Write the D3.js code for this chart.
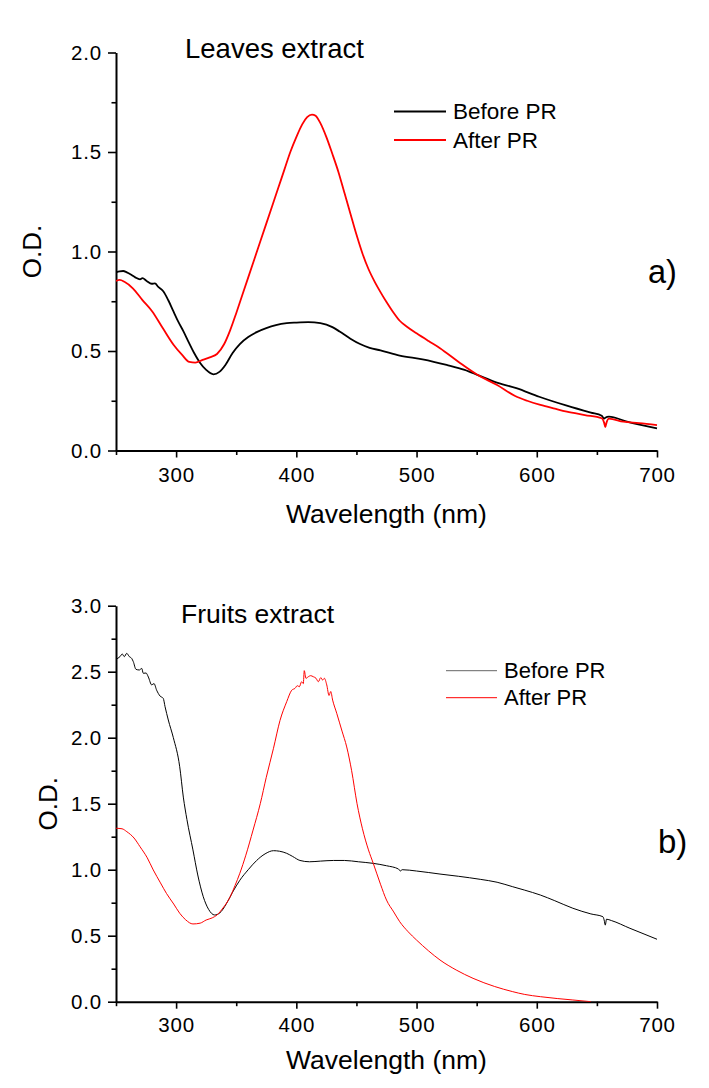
<!DOCTYPE html>
<html>
<head>
<meta charset="utf-8">
<script src="https://cdn.jsdelivr.net/npm/d3@7"></script>
<style>
  html, body { margin: 0; padding: 0; background: #fff; }
  svg { display: block; font-family: "Liberation Sans", Arial, sans-serif; }
</style>
</head>
<body>
<svg id="chart" width="709" height="1088"></svg>
<script>
// ---------- Data ----------
const seriesNames = ["Before PR", "After PR"];
const panelTitles = ["Leaves extract", "Fruits extract"];
const panelLetters = ["a)", "b)"];
const xTickValues = [300, 400, 500, 600, 700];
const xMinorTicks = [250, 350, 450, 550, 650];
const yTicksTop = [0, 0.5, 1.0, 1.5, 2.0];
const yMinorTop = [0.25, 0.75, 1.25, 1.75];
const yTicksBottom = [0, 0.5, 1.0, 1.5, 2.0, 2.5, 3.0];
const yMinorBottom = [0.25, 0.75, 1.25, 1.75, 2.25, 2.75];

// Leaves extract, before PR
const leavesBeforeNm = [250,253,256,259,263,266,270,272,275.5,279.7,282.4,285.2,289.3,293.5,297.7,302,306,310,315,320,325,331,336,341,347,353,360,367,375,383,392,400,410,420,430,436,445,453,461,470,486,505,525,540,551,565,583,602,625,645,654,656,657,660,675,700];
const leavesBeforeOD = [0.895,0.900,0.902,0.895,0.882,0.870,0.860,0.866,0.852,0.838,0.840,0.822,0.800,0.755,0.700,0.645,0.600,0.550,0.490,0.440,0.405,0.383,0.395,0.430,0.490,0.535,0.570,0.595,0.615,0.630,0.640,0.643,0.645,0.640,0.620,0.598,0.562,0.535,0.516,0.503,0.477,0.458,0.430,0.405,0.379,0.345,0.313,0.270,0.225,0.190,0.175,0.160,0.165,0.170,0.145,0.111];

// Leaves extract, after PR
const leavesAfterNm = [250,253,257,264,272,280,289,298,305,311,316,322,328,334,340,345,350,355,360,365,370,375,380,385,390,395,400,405,409,413,416,420,425,430,435,440,445,450,455,460,465,470,475,480,486,492,500,510,519.5,535,551,567,582,592,603,615,625,640,654,656,657,658,660,672,685,700];
const leavesAfterOD = [0.852,0.857,0.848,0.815,0.756,0.700,0.614,0.530,0.480,0.445,0.442,0.455,0.468,0.485,0.535,0.605,0.690,0.780,0.870,0.960,1.050,1.140,1.230,1.320,1.410,1.500,1.575,1.640,1.675,1.688,1.682,1.645,1.575,1.490,1.400,1.295,1.190,1.085,0.990,0.912,0.850,0.796,0.746,0.700,0.652,0.622,0.589,0.550,0.514,0.445,0.379,0.329,0.274,0.250,0.229,0.210,0.195,0.178,0.162,0.140,0.117,0.140,0.160,0.145,0.138,0.128];

// Fruits extract, before PR
const fruitsBeforeNm = [250,253.3,255.2,256.9,258.9,261.1,263.1,264.4,266.6,269.4,271.4,272.7,275,276.9,279.7,281.6,283.8,286.6,289.3,290.8,293.5,297.7,303,306,309,314,318,322.6,327,332,336,342,347,353,360,367,374,381,386,392,397,403,411,420,431,440,451.6,464,475,485,486.5,488,500,519.5,535,553,567,580,590,603,615,630,645,655,656,657,658,662,677.5,690,700];
const fruitsBeforeOD = [2.594,2.614,2.634,2.614,2.639,2.614,2.600,2.576,2.518,2.513,2.525,2.488,2.490,2.460,2.400,2.410,2.360,2.316,2.298,2.235,2.134,2.000,1.780,1.550,1.380,1.150,0.960,0.795,0.700,0.657,0.670,0.745,0.830,0.920,1.000,1.070,1.120,1.144,1.140,1.124,1.100,1.070,1.060,1.065,1.070,1.070,1.060,1.048,1.030,1.005,0.990,1.000,0.990,0.967,0.950,0.927,0.905,0.871,0.845,0.808,0.765,0.708,0.665,0.644,0.620,0.580,0.625,0.615,0.556,0.510,0.473];

// Fruits extract, after PR
const fruitsAfterNm = [250,255,259,265,270,276,281,287,292,298,303,308,314,320,325,330,334,339,345,349,353,358,364,370,375,381,386.4,392,396.2,398.9,400.8,402.5,404.4,405.8,406.6,408,410,411.9,414.1,416.4,418.3,420.3,421.9,423.3,425.3,427.2,428.6,430.2,433.6,438,441.9,446,450.5,455,460,464,470,475,481,486,493,500,510,519.5,533,547,565,580,590,603,617,630,645];
const fruitsAfterOD = [1.314,1.310,1.288,1.240,1.174,1.090,0.998,0.900,0.820,0.740,0.670,0.620,0.589,0.595,0.619,0.635,0.657,0.710,0.795,0.880,0.973,1.110,1.300,1.500,1.700,1.920,2.130,2.273,2.360,2.374,2.394,2.386,2.424,2.410,2.508,2.450,2.462,2.470,2.462,2.450,2.424,2.455,2.437,2.450,2.400,2.320,2.350,2.285,2.185,2.050,1.930,1.750,1.500,1.310,1.150,1.048,0.890,0.770,0.680,0.606,0.530,0.467,0.385,0.316,0.240,0.177,0.115,0.076,0.055,0.038,0.024,0.013,0.000];

// ---------- Drawing ----------
const svg = d3.select("#chart");
const FONT = '"Liberation Sans", Arial, sans-serif';

const panels = [
  {
    top: 52.5, bottom: 450.5, yMax: 2,
    yTicks: yTicksTop, yMinor: yMinorTop,
    series: [
      {nm: leavesBeforeNm, od: leavesBeforeOD, color: "#000"},
      {nm: leavesAfterNm, od: leavesAfterOD, color: "#ff0000"}
    ],
    lineWidth: 1.8,
    title: panelTitles[0], titleX: 185, titleY: 58, titleSize: 27.5,
    legendX: 394, legendLineLen: 52, legendY: [111.5, 140], legendTextX: 453, legendSize: 22.5,
    legendColors: ["#000", "#ff0000"],
    letter: panelLetters[0], letterX: 648, letterY: 283, letterSize: 32.5,
    yTitleX: 41, xTitleY: 523, xLabelPad: 10
  },
  {
    top: 605.7, bottom: 1001.7, yMax: 3,
    yTicks: yTicksBottom, yMinor: yMinorBottom,
    series: [
      {nm: fruitsBeforeNm, od: fruitsBeforeOD, color: "#000"},
      {nm: fruitsAfterNm, od: fruitsAfterOD, color: "#ff0000"}
    ],
    lineWidth: 1.0,
    title: panelTitles[1], titleX: 181, titleY: 623, titleSize: 26.5,
    legendX: 446, legendLineLen: 51, legendY: [670.7, 697.7], legendTextX: 504, legendSize: 22,
    legendColors: ["#666", "#ff0000"],
    letter: panelLetters[1], letterX: 658, letterY: 853, letterSize: 33,
    yTitleX: 57, xTitleY: 1069, xLabelPad: 8.5
  }
];

const X0 = 116, X1 = 657;

panels.forEach(p => {
  const x = d3.scaleLinear().domain([250, 700]).range([X0, X1]);
  const y = d3.scaleLinear().domain([0, p.yMax]).range([p.bottom, p.top]);
  const g = svg.append("g");

  const clipId = "clip" + Math.round(p.top);
  svg.append("clipPath").attr("id", clipId)
    .append("rect").attr("x", X0).attr("y", p.top - 5).attr("width", X1 - X0 + 2).attr("height", p.bottom - p.top + 5);

  // minor ticks
  const xMinorAxis = d3.axisBottom(x).tickValues(xMinorTicks).tickSize(4.5).tickFormat("");
  g.append("g").attr("transform", `translate(0,${p.bottom})`).call(xMinorAxis)
    .call(s => s.select(".domain").remove())
    .selectAll("line").attr("stroke", "#000").attr("stroke-width", 1.6);
  const yMinorAxis = d3.axisLeft(y).tickValues(p.yMinor).tickSize(4.5).tickFormat("");
  g.append("g").attr("transform", `translate(${X0},0)`).call(yMinorAxis)
    .call(s => s.select(".domain").remove())
    .selectAll("line").attr("stroke", "#000").attr("stroke-width", 1.6);

  // major axes
  const xAxis = d3.axisBottom(x).tickValues(xTickValues).tickSize(7).tickSizeOuter(0)
    .tickPadding(p.xLabelPad).tickFormat(d3.format("d"));
  const xg = g.append("g").attr("transform", `translate(0,${p.bottom})`).call(xAxis);
  xg.select(".domain").attr("stroke", "#000").attr("stroke-width", 2);
  xg.selectAll(".tick line").attr("stroke", "#000").attr("stroke-width", 1.6);
  xg.selectAll("text").attr("font-family", FONT).attr("font-size", 20.5).attr("fill", "#000")
    .attr("letter-spacing", 0.8);

  const yAxis = d3.axisLeft(y).tickValues(p.yTicks).tickSize(8).tickSizeOuter(0)
    .tickPadding(6).tickFormat(d3.format(".1f"));
  const yg = g.append("g").attr("transform", `translate(${X0},0)`).call(yAxis);
  yg.select(".domain").attr("stroke", "#000").attr("stroke-width", 2);
  yg.selectAll(".tick line").attr("stroke", "#000").attr("stroke-width", 1.6);
  yg.selectAll("text").attr("font-family", FONT).attr("font-size", 20.5).attr("fill", "#000")
    .attr("letter-spacing", 0.8);

  // curves
  const line = d3.line().x(d => x(d[0])).y(d => y(d[1])).curve(d3.curveMonotoneX);
  p.series.forEach(s => {
    const pts = s.nm.map((v, i) => [v, s.od[i]]);
    g.append("path").datum(pts)
      .attr("clip-path", `url(#${clipId})`)
      .attr("fill", "none").attr("stroke", s.color)
      .attr("stroke-width", p.lineWidth).attr("stroke-linejoin", "round")
      .attr("d", line);
  });

  // axis titles
  g.append("text").attr("x", (X0 + X1) / 2).attr("y", p.xTitleY)
    .attr("text-anchor", "middle").attr("font-family", FONT).attr("font-size", 26.5)
    .attr("fill", "#000").text("Wavelength (nm)");
  g.append("text")
    .attr("transform", `translate(${p.yTitleX},${(p.top + p.bottom) / 2}) rotate(-90)`)
    .attr("text-anchor", "middle").attr("font-family", FONT).attr("font-size", 26)
    .attr("fill", "#000").text("O.D.");

  // panel title
  g.append("text").attr("x", p.titleX).attr("y", p.titleY)
    .attr("font-family", FONT).attr("font-size", p.titleSize).attr("fill", "#000").text(p.title);

  // legend
  seriesNames.forEach((name, i) => {
    g.append("line")
      .attr("x1", p.legendX).attr("x2", p.legendX + p.legendLineLen)
      .attr("y1", p.legendY[i]).attr("y2", p.legendY[i])
      .attr("stroke", p.legendColors[i]).attr("stroke-width", p.lineWidth);
    g.append("text").attr("x", p.legendTextX).attr("y", p.legendY[i] + 7.5)
      .attr("font-family", FONT).attr("font-size", p.legendSize).attr("fill", "#000").text(name);
  });

  // panel letter
  g.append("text").attr("x", p.letterX).attr("y", p.letterY)
    .attr("font-family", FONT).attr("font-size", p.letterSize).attr("fill", "#000").text(p.letter);
});
</script>
</body>
</html>
